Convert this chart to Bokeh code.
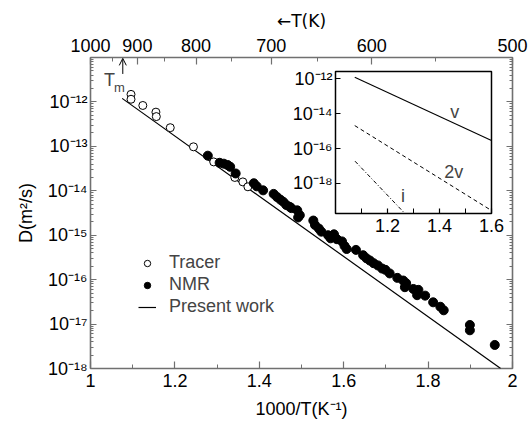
from bokeh.plotting import figure
from bokeh.models import (FixedTicker, LinearAxis, LogAxis, Legend, LegendItem,
                          Arrow, OpenHead, Label, Range1d, LogScale, LinearScale)
from bokeh.embed import file_html
from bokeh.resources import INLINE

FONT = "Liberation Sans"
FRAME = "#707070"
FS = "18px"

# ---------------- data (1000/T in 1/K, log10 D in m^2/s) ----------------
tracer_x = [1.096, 1.096, 1.124, 1.155, 1.156, 1.189, 1.244, 1.292, 1.342, 1.361, 1.373]
tracer_logD = [-11.83, -11.94, -12.08, -12.23, -12.33, -12.58, -13.01, -13.35, -13.70, -13.80, -13.91]

nmr_x = [1.278, 1.306, 1.316, 1.325, 1.331, 1.344, 1.387, 1.394, 1.409, 1.434, 1.442,
         1.450, 1.457, 1.464, 1.472, 1.476, 1.490, 1.496, 1.492, 1.528, 1.532, 1.541,
         1.547, 1.563, 1.577, 1.569, 1.584, 1.596, 1.602, 1.607, 1.629, 1.646, 1.654,
         1.662, 1.671, 1.681, 1.691, 1.699, 1.709, 1.727, 1.741, 1.748, 1.745, 1.765,
         1.777, 1.774, 1.793, 1.812, 1.829, 1.837, 1.899, 1.899, 1.958]
nmr_logD = [-13.21, -13.37, -13.39, -13.42, -13.46, -13.61, -13.83, -13.90, -13.99, -14.07, -14.14,
            -14.20, -14.25, -14.32, -14.36, -14.39, -14.44, -14.55, -14.60, -14.67, -14.77, -14.85,
            -14.92, -15.00, -14.98, -15.07, -15.09, -15.14, -15.24, -15.31, -15.33, -15.45, -15.52,
            -15.57, -15.63, -15.68, -15.75, -15.78, -15.86, -15.96, -16.02, -16.08, -16.17, -16.21,
            -16.23, -16.35, -16.36, -16.51, -16.61, -16.69, -17.02, -17.14, -17.47]

present_x = [1.075, 1.972]
present_logD = [-11.92, -18.0]

tm_x = 1.0765

# inset (vacancy, divacancy, interstitial contributions)
inset_v_x = [1.074, 1.6]
inset_v_logD = [-11.91, -15.54]
inset_2v_x = [1.074, 1.6]
inset_2v_logD = [-14.68, -19.55]
inset_i_x = [1.075, 1.267]
inset_i_logD = [-16.72, -19.72]
inset_x_range = [1.0, 1.6]
inset_logD_range = [-19.72, -11.58]

# ---------------- ticks ----------------
x_ticks = [1.0, 1.2, 1.4, 1.6, 1.8, 2.0]
x_tick_labels = ["1", "1.2", "1.4", "1.6", "1.8", "2"]
x_minor = [1.1, 1.3, 1.5, 1.7, 1.9]

T_major = [1000, 900, 800, 700, 600, 500]
T_minor = [950, 850, 750, 650, 550]

y_ticks = [1e-18, 1e-17, 1e-16, 1e-15, 1e-14, 1e-13, 1e-12]
y_tick_labels = ["10⁻¹⁸", "10⁻¹⁷", "10⁻¹⁶", "10⁻¹⁵", "10⁻¹⁴", "10⁻¹³", "10⁻¹²"]
y_minor = [k * 10.0 ** n for n in range(-18, -11) for k in range(2, 10)]

in_x_ticks = [1.2, 1.4, 1.6]
in_x_labels = ["1.2", "1.4", "1.6"]
in_x_minor = [1.1, 1.3, 1.5]
in_y_ticks = [1e-18, 1e-16, 1e-14, 1e-12]
in_y_labels = ["10⁻¹⁸", "10⁻¹⁶", "10⁻¹⁴", "10⁻¹²"]

X_RANGE = (1.0, 2.0)
Y_RANGE = (1e-18, 1e-11)


def D(vals):
    return [10.0 ** v for v in vals]


def style_axis(ax, color=FRAME, tick_major=7, tick_minor=4):
    ax.axis_line_color = None
    ax.major_tick_in = tick_major
    ax.major_tick_out = 0
    ax.minor_tick_in = tick_minor
    ax.minor_tick_out = 0
    ax.major_tick_line_color = color
    ax.minor_tick_line_color = color
    ax.major_tick_line_width = 1.2
    ax.minor_tick_line_width = 1.0
    ax.major_label_text_font = FONT
    ax.major_label_text_font_size = FS
    ax.major_label_text_color = "black"
    ax.axis_label_text_font = FONT
    ax.axis_label_text_font_size = FS
    ax.axis_label_text_font_style = "normal"
    ax.axis_label_text_color = "black"


# ---------------- main figure ----------------
p = figure(width=528, height=427, x_range=X_RANGE, y_range=Y_RANGE,
           y_axis_type="log", output_backend="svg", toolbar_location=None,
           min_border_left=90, min_border_right=16, min_border_top=57, min_border_bottom=59)
p.grid.visible = False
p.outline_line_color = FRAME
p.outline_line_width = 1.6
p.background_fill_color = "white"
p.border_fill_color = "white"

xa = p.xaxis[0]
xa.ticker = FixedTicker(ticks=x_ticks, minor_ticks=x_minor)
xa.major_label_overrides = dict(zip(x_ticks, x_tick_labels))
xa.axis_label = "1000/T(K⁻¹)"
style_axis(xa)
xa.major_label_standoff = 5
xa.axis_label_standoff = 9

ya = p.yaxis[0]
ya.ticker = FixedTicker(ticks=y_ticks, minor_ticks=y_minor)
ya.major_label_overrides = dict(zip(y_ticks, y_tick_labels))
ya.axis_label = "D(m²/s)"
style_axis(ya, tick_major=6, tick_minor=3)
ya.major_label_standoff = 3
ya.axis_label_standoff = 9

top_ticks = [1000.0 / T for T in T_major]
top = LinearAxis(ticker=FixedTicker(ticks=top_ticks, minor_ticks=[1000.0 / T for T in T_minor]),
                 major_label_overrides=dict(zip(top_ticks, [str(T) for T in T_major])),
                 axis_label="←T(K)")
style_axis(top)
top.axis_label_text_font = "DejaVu Sans"
top.axis_label_text_font_size = "17px"
top.major_label_standoff = 6
top.axis_label_standoff = 5
p.add_layout(top, "above")

right = LogAxis(ticker=FixedTicker(ticks=y_ticks, minor_ticks=y_minor),
                major_label_overrides={t: "" for t in y_ticks}, fixed_location=X_RANGE[1])
style_axis(right, tick_major=6, tick_minor=3)
right.major_label_standoff = 0
p.add_layout(right, "right")

r_line = p.line(present_x, D(present_logD), line_color="black", line_width=1.2)
r_tr = p.scatter(tracer_x, D(tracer_logD), marker="circle", size=8,
                 fill_color="white", line_color="black", line_width=1)
r_nmr = p.scatter(nmr_x, D(nmr_logD), marker="circle", size=9,
                  fill_color="black", line_color="black")

legend = Legend(items=[LegendItem(label="Tracer", renderers=[r_tr]),
                       LegendItem(label="NMR", renderers=[r_nmr]),
                       LegendItem(label="Present work", renderers=[r_line])],
                location=(48, 51), border_line_color=None, background_fill_alpha=0,
                padding=0, margin=0, spacing=1, glyph_width=18, glyph_height=16,
                label_height=21, label_standoff=13,
                label_text_font=FONT, label_text_font_size=FS)
p.add_layout(legend)

p.add_layout(Arrow(end=OpenHead(size=7, line_width=1, line_color="black"),
                   x_start=tm_x, y_start=10 ** -11.37, x_end=tm_x, y_end=10 ** -11.02,
                   line_width=1, line_color="black"))
p.add_layout(Label(x=1.045, y=10 ** -11.50, text="T", text_font=FONT, text_font_size=FS,
                   text_align="center", text_baseline="middle"))
p.add_layout(Label(x=1.0687, y=10 ** -11.67, text="m", text_font=FONT, text_font_size="13px",
                   text_align="center", text_baseline="middle"))

# ---------------- inset, drawn in the same canvas on its own ranges ----------------
# ranges chosen so that the inset box (1.0..1.6, 1e-19.72..1e-11.58) sits in the upper right
p.extra_x_ranges = {"ix": Range1d(0.0577, 1.6808)}
p.extra_x_scales = {"ix": LinearScale()}
p.extra_y_ranges = {"iy": Range1d(10 ** -28.605, 10 ** -10.7775)}
p.extra_y_scales = {"iy": LogScale()}

ib = D(inset_logD_range)
p.quad(left=[inset_x_range[0]], right=[inset_x_range[1]], bottom=[ib[0]], top=[ib[1]],
       x_range_name="ix", y_range_name="iy", fill_color="white",
       line_color="black", line_width=1.5)

p.line(inset_v_x, D(inset_v_logD), x_range_name="ix", y_range_name="iy",
       line_color="black", line_width=1.1)
p.line(inset_2v_x, D(inset_2v_logD), x_range_name="ix", y_range_name="iy",
       line_color="black", line_width=1.0, line_dash="4 3")
p.line(inset_i_x, D(inset_i_logD), x_range_name="ix", y_range_name="iy",
       line_color="black", line_width=1.0, line_dash="4 2 1 2")

ix_axis = LinearAxis(x_range_name="ix", y_range_name="iy",
                     ticker=FixedTicker(ticks=in_x_ticks, minor_ticks=in_x_minor),
                     major_label_overrides=dict(zip(in_x_ticks, in_x_labels)),
                     bounds=tuple(inset_x_range), fixed_location=ib[0])
style_axis(ix_axis, color="black", tick_major=5, tick_minor=5)
ix_axis.major_label_standoff = 5
p.add_layout(ix_axis, "below")

iy_axis = LogAxis(x_range_name="ix", y_range_name="iy",
                  ticker=FixedTicker(ticks=in_y_ticks, minor_ticks=[]),
                  major_label_overrides=dict(zip(in_y_ticks, in_y_labels)),
                  bounds=(ib[0], ib[1]), fixed_location=inset_x_range[0])
style_axis(iy_axis, color="black", tick_major=5, tick_minor=0)
iy_axis.major_label_standoff = 3
p.add_layout(iy_axis, "left")

for lx, ly, txt in [(1.459, -13.91, "v"), (1.455, -17.35, "2v"), (1.260, -18.69, "i")]:
    p.add_layout(Label(x=lx, y=10 ** ly, text=txt, x_range_name="ix", y_range_name="iy",
                       text_font=FONT, text_font_size=FS,
                       text_align="center", text_baseline="middle"))

open("out.html", "w").write(file_html(p, INLINE))
